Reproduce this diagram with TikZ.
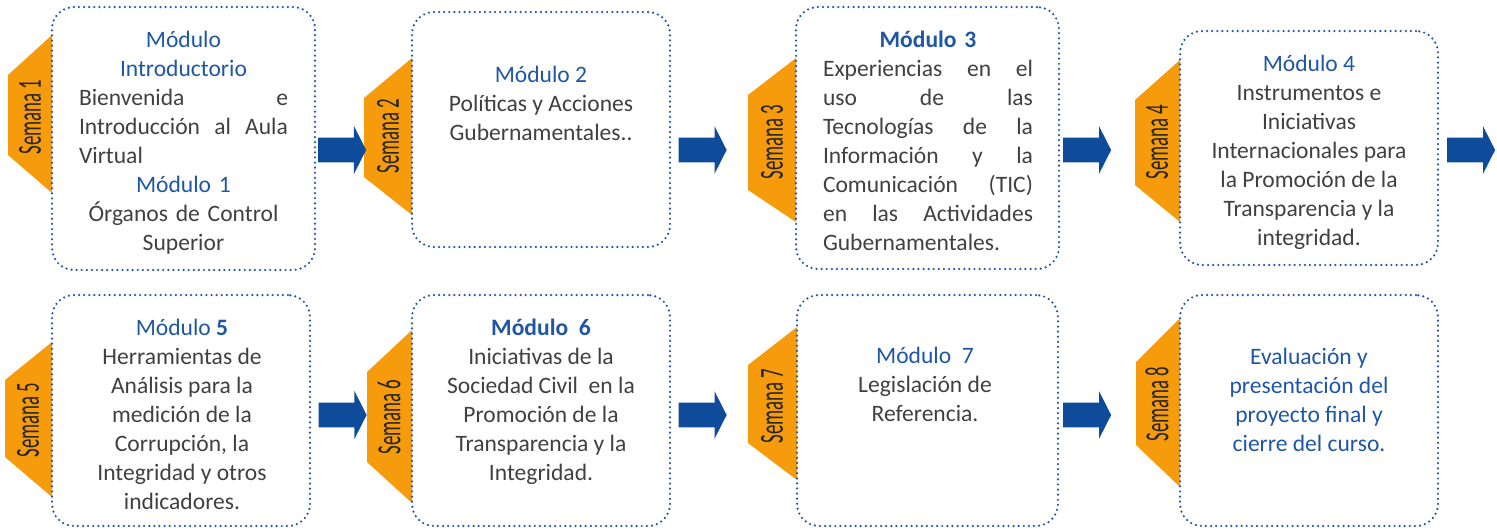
\documentclass[tikz,border=0pt]{standalone}
\usepackage{fontspec}
\setmainfont{Carlito}
\newfontfamily\semfont[FakeStretch=0.56]{Carlito}
\usetikzlibrary{shapes.arrows}

\definecolor{tabfill}{RGB}{246,155,12}
\definecolor{arrowblue}{RGB}{14,75,155}
\definecolor{dotblue}{RGB}{35,85,170}
\definecolor{titleblue}{RGB}{31,86,165}
\definecolor{bodygray}{RGB}{64,64,64}

\newcommand{\modtitle}[1]{\textcolor{titleblue}{#1}}

\begin{document}
\begin{tikzpicture}[x=0.02cm,y=-0.02cm,
		modbox/.style={draw=dotblue, line width=1.4pt, dash pattern=on 0pt off 2.9pt, line cap=round, rounded corners=0.44cm, inner sep=0pt},
		modtext/.style={anchor=north, inner sep=0pt, align=center, text=bodygray, font=\fontsize{13.4}{16.5}\selectfont},
		semlabel/.style={rotate=90, inner sep=0pt, text=black!85, font=\semfont\fontsize{19.2}{20}\selectfont},
		blockarrow/.style={single arrow, fill=arrowblue, inner xsep=0pt, inner ysep=0.24cm, minimum height=0.96cm, single arrow head extend=0.23cm, single arrow tip angle=126}]
		\useasboundingbox (0,0) rectangle (1497,529);
		% orange week tabs
		\fill[tabfill] (52,35) -- (8,75) -- (8,155) -- (52,193) -- cycle;
		\fill[tabfill] (412,58) -- (364,98) -- (364,177) -- (412,215) -- cycle;
		\fill[tabfill] (796,58) -- (748,95) -- (748,190) -- (796,222) -- cycle;
		\fill[tabfill] (1180,60) -- (1135,100) -- (1135,185) -- (1180,222) -- cycle;
		\fill[tabfill] (52,342) -- (5,380) -- (5,457) -- (52,497) -- cycle;
		\fill[tabfill] (412,330) -- (367,372) -- (367,462) -- (412,503) -- cycle;
		\fill[tabfill] (797,327) -- (748,365) -- (748,443) -- (797,480) -- cycle;
		\fill[tabfill] (1180,318) -- (1136,362) -- (1136,445) -- (1180,487) -- cycle;
		\node[semlabel] (s1) at (30,117) {Semana 1};
		\node[semlabel] (s2) at (388,136) {Semana 2};
		\node[semlabel] (s3) at (772,142) {Semana 3};
		\node[semlabel] (s4) at (1157,142) {Semana 4};
		\node[semlabel] (s5) at (28,420) {Semana 5};
		\node[semlabel] (s6) at (389,417) {Semana 6};
		\node[semlabel] (s7) at (772,406) {Semana 7};
		\node[semlabel] (s8) at (1157,404) {Semana 8};
		% module boxes
		\node[modbox, minimum width=5.26cm, minimum height=5.26cm] (m1) at (183.5,138.5) {};
		\node[modbox, minimum width=5.16cm, minimum height=4.7cm] (m2) at (541,129.5) {};
		\node[modbox, minimum width=5.26cm, minimum height=5.24cm] (m3) at (927.5,138) {};
		\node[modbox, minimum width=5.16cm, minimum height=4.68cm] (m4) at (1309,148) {};
		\node[modbox, minimum width=5.16cm, minimum height=4.62cm] (m5) at (181,410.5) {};
		\node[modbox, minimum width=5.16cm, minimum height=4.62cm] (m6) at (541,410.5) {};
		\node[modbox, minimum width=5.22cm, minimum height=4.62cm] (m7) at (927.5,410.5) {};
		\node[modbox, minimum width=5.16cm, minimum height=4.62cm] (m8) at (1309,410.5) {};
		\node[modtext, text width=4.18cm] (t1) at (183.5,31) {\modtitle{Módulo}\\ \modtitle{Introductorio}\\ Bienvenida\hfill e\\ Introducción\hfill al\hfill Aula\\ Virtual\hfill\null\\ \modtitle{Módulo 1}\\ Órganos de Control\\ Superior};
		\node[modtext] (t2) at (541,66) {\modtitle{Módulo 2}\\ Políticas y Acciones\\ Gubernamentales..};
		\node[modtext, text width=4.2cm] (t3) at (928,31) {\modtitle{\textbf{Módulo 3}}\\ Experiencias\hfill en\hfill el\\ uso\hfill de\hfill las\\ Tecnologías\hfill de\hfill la\\ Información\hfill y\hfill la\\ Comunicación\hfill (TIC)\\ en\hfill las\hfill Actividades\\ Gubernamentales.\hfill\null};
		\node[modtext] (t4) at (1309,55) {\modtitle{Módulo 4}\\ Instrumentos e\\ Iniciativas\\ Internacionales para\\ la Promoción de la\\ Transparencia y la\\ integridad.};
		\node[modtext] (t5) at (182,319) {\modtitle{Módulo \textbf{5}}\\ Herramientas de\\ Análisis para la\\ medición de la\\ Corrupción, la\\ Integridad y otros\\ indicadores.};
		\node[modtext] (t6) at (541,319) {\modtitle{\textbf{Módulo\ \ 6}}\\ Iniciativas de la\\ Sociedad Civil\ \ en\ la\\ Promoción de la\\ Transparencia y la\\ Integridad.};
		\node[modtext] (t7) at (925,347) {\modtitle{Módulo\ \ 7}\\ Legislación de\\ Referencia.};
		\node[modtext, text=titleblue] (t8) at (1309,348) {Evaluación y\\ presentación del\\ proyecto final y\\ cierre del curso.};
		% blue block arrows
		\node[blockarrow] (a1) at (339,150) {};
		\node[blockarrow] (a2) at (699.5,150) {};
		\node[blockarrow] (a3) at (1084,150) {};
		\node[blockarrow] (a4) at (1468,150) {};
		\node[blockarrow] (a5) at (339.5,415) {};
		\node[blockarrow] (a6) at (699.5,415) {};
		\node[blockarrow] (a7) at (1084,415) {};
	\end{tikzpicture}
\end{document}
